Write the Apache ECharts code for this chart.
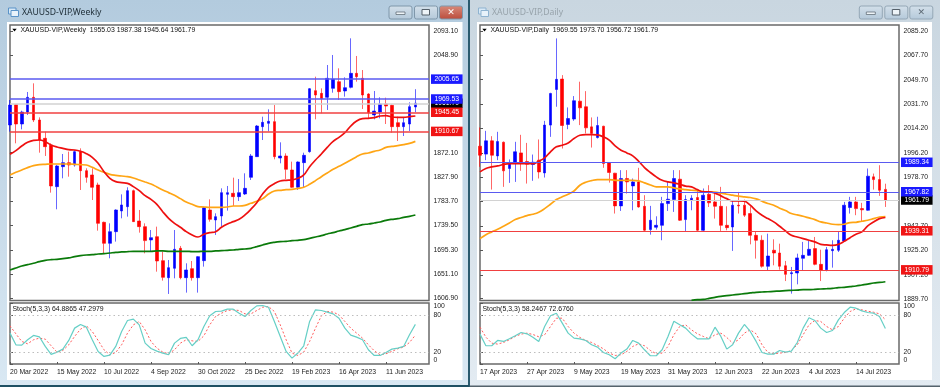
<!DOCTYPE html>
<html>
<head>
<meta charset="utf-8">
<style>html,body{margin:0;padding:0;background:#d6e4ef}#c{width:940px;height:387px}</style>
<script src="https://cdn.jsdelivr.net/npm/echarts@6/dist/echarts.min.js"></script>
</head>
<body>
<div id="c"></div>
<script>
// ---------- Weekly ----------
const weeklyTitle = 'XAUUSD-VIP,Weekly';
const weeklyLegend = 'XAUUSD-VIP,Weekly  1955.03 1987.38 1945.64 1961.79';
const weeklyStochLabel = 'Stoch(5,3,3) 64.8865 47.2979';
const weeklyDates = ['20 Mar 2022','15 May 2022','10 Jul 2022','4 Sep 2022','30 Oct 2022','25 Dec 2022','19 Feb 2023','16 Apr 2023','11 Jun 2023'];
const weeklyPriceTicks = [2093.10,2048.90,1872.10,1827.90,1783.70,1739.50,1695.30,1651.10,1606.90];
const weeklyLevels = [[1961.79,'black'],[2005.65,'blue'],[1969.53,'blue'],[1945.45,'red'],[1910.67,'red']];
// open, close, low, high
const weeklyOHLC = [
[1922.3,1958.6,1910.2,1967.7],[1959.2,1924.1,1889.0,1960.0],[1924.1,1945.9,1914.4,1948.3],[1945.9,1972.6,1940.5,1982.3],[1972.6,1931.4,1927.7,1998.0],
[1931.4,1895.0,1872.0,1936.2],[1898.1,1882.9,1866.0,1910.2],[1885.4,1811.5,1799.4,1889.0],[1810.3,1847.8,1769.1,1849.6],[1846.6,1853.9,1825.4,1869.6],
[1853.9,1849.6,1828.4,1873.9],[1849.6,1873.9,1846.6,1876.9],[1873.9,1839.3,1804.2,1879.9],[1839.3,1827.2,1817.5,1843.6],[1831.5,1809.1,1786.0,1843.6],
[1813.3,1743.6,1730.3,1817.5],[1745.5,1707.3,1687.9,1746.7],[1707.3,1728.5,1680.1,1743.6],[1728.5,1767.9,1710.4,1769.1],[1766.1,1777.0,1752.7,1796.3],
[1773.9,1803.0,1755.8,1809.1],[1803.0,1746.7,1746.7,1805.0],[1747.9,1737.6,1726.7,1767.9],[1737.6,1712.2,1689.1,1743.6],[1713.4,1717.6,1692.2,1731.5],
[1719.4,1675.2,1655.8,1737.6],[1675.8,1645.5,1639.5,1692.2],[1644.9,1663.1,1615.3,1677.0],[1661.9,1696.4,1643.7,1731.5],[1698.2,1644.9,1641.9,1702.5],
[1644.9,1658.9,1617.7,1671.0],[1661.3,1644.9,1639.5,1675.2],[1644.9,1683.1,1617.7,1684.0],[1675.8,1772.1,1664.9,1773.9],[1767.9,1750.9,1746.7,1787.2],
[1749.7,1755.8,1722.5,1761.8],[1757.0,1799.4,1737.6,1807.2],[1796.3,1799.4,1766.7,1811.5],[1798.2,1792.1,1775.1,1826.6],[1792.1,1799.4,1784.2,1824.2],
[1796.9,1807.2,1795.1,1834.5],[1827.2,1866.0,1822.4,1869.6],[1864.8,1920.5,1864.8,1922.3],[1919.3,1927.1,1895.0,1937.4],[1925.3,1929.0,1910.8,1950.8],
[1928.4,1864.8,1859.9,1958.6],[1862.3,1866.0,1852.7,1890.8],[1866.0,1841.8,1824.2,1870.8],[1840.5,1809.1,1808.0,1855.7],[1809.1,1855.1,1804.2,1856.3],
[1853.9,1867.2,1808.4,1872.0],[1873.9,1988.3,1872.0,1989.5],[1984.7,1976.8,1932.6,2010.1],[1979.8,1970.1,1943.5,1988.9],[1972.6,2007.1,1949.6,2031.3],
[1988.9,2005.3,1981.0,2049.5],[2001.0,1982.9,1967.7,2025.3],[1984.1,1990.1,1973.8,2008.9],[1990.7,2016.2,1988.9,2079.8],[2016.2,2010.1,2001.0,2047.7],
[2007.1,1976.8,1951.4,2022.2],[1978.6,1944.7,1933.2,1980.0],[1940.5,1947.7,1932.6,1984.1],[1945.9,1960.5,1934.4,1972.6],[1960.5,1956.8,1924.1,1972.0],
[1958.0,1919.3,1908.4,1959.5],[1926.5,1919.3,1893.2,1937.4],[1919.3,1926.5,1902.3,1936.2],[1924.1,1955.6,1911.4,1963.5],[1955.03,1961.79,1945.64,1987.38]];
const weeklyMaFast = [
1869.0,1875.7,1884.1,1890.8,1894.4,1895.0,1892.0,1886.0,1882.3,1879.9,
1877.5,1876.9,1874.5,1870.2,1863.6,1852.7,1837.5,1825.4,1819.4,1817.5,
1816.3,1810.3,1803.0,1793.9,1787.2,1778.2,1764.8,1752.7,1743.6,1736.4,
1728.5,1722.5,1718.8,1723.7,1726.7,1728.5,1736.4,1742.4,1746.7,1750.9,
1758.8,1769.1,1781.2,1796.9,1809.1,1815.7,1820.6,1821.8,1822.4,1825.4,
1831.5,1846.6,1858.7,1869.6,1881.7,1892.6,1899.9,1908.4,1920.5,1929.6,
1933.8,1934.4,1935.6,1938.7,1939.3,1936.8,1936.2,1936.2,1937.4,1938.7];
const weeklyMaMid = [
1831.5,1836.3,1840.5,1844.8,1848.4,1850.2,1850.8,1851.4,1851.4,1851.4,
1851.4,1850.8,1850.2,1849.6,1845.4,1840.5,1836.3,1832.7,1830.9,1829.6,
1828.4,1826.0,1822.4,1818.7,1815.1,1809.7,1804.2,1799.4,1794.5,1788.5,
1782.4,1778.2,1773.9,1773.3,1772.7,1772.7,1772.7,1773.3,1775.1,1775.1,
1776.3,1780.0,1783.6,1788.5,1796.9,1802.4,1803.6,1804.8,1805.4,1807.2,
1809.1,1814.5,1821.2,1828.4,1835.1,1841.8,1847.2,1852.7,1858.7,1864.8,
1869.6,1871.4,1874.5,1876.9,1881.7,1883.5,1884.7,1886.6,1889.0,1892.6];
const weeklyMaSlow = [
1658.9,1662.5,1666.1,1668.5,1671.0,1674.0,1676.4,1677.6,1678.2,1679.4,
1680.7,1683.1,1684.9,1686.1,1686.7,1687.9,1688.5,1689.7,1690.9,1691.6,
1692.2,1692.8,1692.8,1692.8,1692.8,1693.4,1693.4,1692.8,1692.8,1692.8,
1692.8,1692.2,1692.2,1692.8,1692.8,1693.4,1694.0,1694.6,1695.2,1696.4,
1697.0,1698.2,1701.2,1704.3,1707.3,1709.1,1710.3,1710.9,1712.1,1712.8,
1714.0,1716.4,1718.8,1721.2,1724.3,1726.7,1729.7,1732.1,1735.2,1738.2,
1741.2,1742.4,1744.2,1746.1,1749.1,1750.9,1752.1,1754.5,1756.4,1758.8];
const weeklyStochMain = [
50.6,31.5,30.9,39.7,46.8,44.6,28.8,15.7,19.5,24.4,
38.6,58.8,64.8,60.4,39.7,20.6,12.4,14.6,28.8,53.3,
71.3,73.5,64.2,34.2,25.5,21.1,17.9,15.1,34.2,41.9,
43.5,29.9,39.7,61.5,79.0,86.1,86.6,89.9,89.9,83.3,
77.9,87.7,95.3,95.9,93.1,69.7,45.2,20.6,9.7,17.9,
29.9,69.7,88.8,87.7,85.0,82.2,75.1,58.8,47.3,44.0,
39.7,23.3,14.0,14.0,18.9,24.4,26.0,28.8,47.9,64.89];
const weeklyStochSignal = [
62.6,49.5,37.0,33.1,39.7,42.4,40.8,29.9,19.5,22.2,
31.5,45.2,57.1,62.6,53.3,38.6,23.3,15.1,18.9,31.5,
50.6,64.2,69.7,56.0,37.0,26.0,19.5,16.8,23.3,34.2,
39.7,38.0,37.0,46.2,64.2,77.9,83.3,87.7,88.8,87.7,
82.2,82.2,87.7,93.1,94.2,86.1,64.2,39.7,17.9,14.0,
19.5,37.0,58.8,79.0,86.1,85.0,80.6,69.7,58.8,50.6,
42.4,31.5,21.7,15.1,16.8,20.6,25.0,27.7,35.3,47.30];

// ---------- Daily ----------
const dailyTitle = 'XAUUSD-VIP,Daily';
const dailyLegend = 'XAUUSD-VIP,Daily  1969.55 1973.70 1956.72 1961.79';
const dailyStochLabel = 'Stoch(5,3,3) 58.2467 72.6760';
const dailyDates = ['17 Apr 2023','27 Apr 2023','9 May 2023','19 May 2023','31 May 2023','12 Jun 2023','22 Jun 2023','4 Jul 2023','14 Jul 2023'];
const dailyPriceTicks = [2085.20,2067.70,2049.70,2031.70,2014.20,1996.20,1978.70,1960.70,1942.70,1925.20,1907.20,1889.70];
const dailyLevels = [[1961.79,'black'],[1989.34,'blue'],[1967.82,'blue'],[1939.31,'red'],[1910.79,'red']];
const dailyOHLC = [
[2001.1,1994.5,1986.0,2014.8],[1995.3,2005.0,1990.9,2012.3],[2005.0,1994.5,1969.4,2008.4],[1994.0,2004.5,1990.9,2011.6],[2004.0,1983.1,1971.4,2004.5],
[1984.8,1989.2,1974.3,1991.4],[1988.4,1997.0,1975.0,2004.3],[1996.2,1989.2,1983.1,2009.4],[1989.9,1987.9,1973.8,2003.5],[1987.7,1989.4,1975.8,1995.0],
[1990.9,1982.3,1977.5,2006.0],[1981.6,2016.5,1978.2,2019.6],[2016.5,2039.6,2007.9,2040.1],[2042.5,2049.9,2029.9,2079.8],[2050.1,2016.2,1999.4,2053.0],
[2017.0,2021.3,2013.5,2029.4],[2020.9,2034.3,2019.6,2037.7],[2034.0,2029.1,2016.5,2048.2],[2029.9,2014.5,2010.4,2041.3],[2015.2,2010.4,2000.1,2022.1],
[2007.4,2016.2,2006.7,2022.6],[2015.7,1988.4,1985.3,2016.0],[1989.2,1981.9,1974.5,1989.5],[1981.4,1957.5,1951.9,1981.6],[1957.5,1977.5,1953.8,1983.6],
[1977.5,1975.0,1966.5,1983.6],[1972.1,1975.0,1954.3,1977.5],[1975.0,1956.7,1956.2,1985.3],[1957.2,1939.7,1938.5,1965.3],[1940.2,1947.0,1936.5,1957.5],
[1941.9,1943.3,1940.2,1949.9],[1943.3,1959.2,1932.4,1964.1],[1959.2,1962.4,1953.8,1975.0],[1962.1,1977.5,1953.1,1983.6],[1977.0,1947.0,1946.5,1983.6],
[1947.5,1962.1,1938.5,1965.3],[1961.6,1963.1,1954.3,1965.3],[1963.6,1939.7,1939.2,1969.4],[1939.7,1965.3,1939.2,1970.2],[1966.0,1959.7,1956.7,1972.6],
[1960.4,1957.2,1948.2,1967.7],[1957.2,1943.3,1939.2,1971.4],[1943.3,1941.6,1939.7,1957.2],[1942.1,1958.0,1924.6,1961.6],[1958.0,1957.5,1951.9,1967.7],
[1958.0,1950.7,1949.4,1962.1],[1951.9,1936.0,1929.4,1957.2],[1936.0,1932.4,1919.0,1938.5],[1932.4,1913.4,1912.4,1936.0],[1913.4,1920.9,1910.4,1937.2],
[1925.1,1923.1,1914.1,1933.1],[1923.1,1913.4,1910.9,1929.9],[1913.8,1907.5,1902.6,1917.3],[1908.0,1908.7,1893.4,1912.9],[1908.5,1919.5,1900.2,1922.6],
[1919.2,1921.4,1910.4,1931.2],[1921.4,1925.8,1920.9,1931.9],[1926.3,1914.8,1914.1,1934.8],[1914.8,1910.4,1902.6,1925.5],[1910.9,1925.5,1909.7,1927.5],
[1924.8,1925.8,1912.4,1932.4],[1925.1,1932.4,1923.8,1938.5],[1931.9,1958.0,1931.2,1960.4],[1956.3,1960.4,1951.9,1964.1],[1960.4,1955.5,1950.7,1964.1],
[1955.5,1954.6,1945.8,1959.7],[1954.3,1979.2,1954.0,1984.8],[1978.7,1976.7,1969.4,1981.1],[1976.7,1968.9,1964.8,1987.2],[1969.55,1961.79,1956.72,1973.70]];
const dailyMaFast = [
1982.3,1984.8,1986.0,1986.7,1987.7,1988.4,1988.4,1988.4,1988.4,1988.4,
1990.1,1992.6,1997.0,2000.6,2001.8,2003.5,2006.7,2009.1,2009.6,2009.6,
2009.4,2007.9,2005.5,2001.3,1998.2,1996.2,1994.0,1990.1,1985.5,1981.9,
1978.7,1976.2,1975.0,1974.3,1973.3,1971.9,1971.4,1969.4,1967.7,1967.7,
1966.8,1964.8,1962.8,1961.1,1961.1,1960.9,1958.0,1953.8,1950.6,1948.2,
1945.8,1942.6,1939.2,1936.0,1934.8,1933.6,1932.4,1931.2,1929.4,1929.0,
1928.7,1929.4,1931.6,1934.3,1936.8,1938.5,1942.9,1945.8,1948.2,1949.0];
const dailyMaMid = [
1933.6,1936.5,1938.5,1940.4,1942.6,1945.0,1947.5,1949.0,1950.4,1951.4,
1952.9,1955.5,1958.7,1962.1,1964.1,1966.0,1968.4,1972.6,1974.8,1976.0,
1976.7,1976.7,1976.7,1976.2,1976.2,1976.2,1976.2,1975.8,1974.3,1972.8,
1971.4,1971.4,1971.4,1970.6,1969.9,1969.4,1968.9,1968.7,1968.0,1967.7,
1967.5,1966.8,1966.0,1965.3,1964.6,1964.1,1963.6,1962.6,1960.9,1959.2,
1958.0,1955.8,1954.1,1951.9,1950.9,1949.9,1948.7,1947.5,1945.8,1945.0,
1944.1,1943.8,1944.1,1945.3,1945.5,1946.3,1947.0,1948.2,1949.4,1949.7];
// the slow average only enters the price panel from bar 36 onward
const dailyMaSlowFirstBar = 36;
const dailyMaSlow = [
1888.5,1889.0,1889.2,1889.9,1890.7,1891.4,1891.9,1892.4,1892.9,1893.4,
1893.9,1894.4,1894.6,1894.8,1895.1,1895.3,1895.6,1895.8,1896.0,1896.3,
1896.3,1896.5,1896.8,1897.0,1897.3,1897.8,1898.0,1898.5,1899.0,1899.7,
1900.4,1901.2,1901.6,1902.1];
const dailyStochMain = [
49.0,29.9,29.9,38.6,37.0,41.3,46.2,51.7,49.5,44.0,
37.0,61.5,79.0,83.3,67.0,50.6,42.4,41.3,38.6,31.5,
27.7,18.9,15.1,8.6,17.9,24.4,38.6,34.2,23.3,13.5,
13.5,23.3,45.2,70.2,64.2,58.8,49.0,41.3,41.3,41.3,
60.4,45.2,24.4,31.5,50.6,64.8,53.3,37.0,18.9,16.2,
16.2,22.2,19.5,21.1,35.3,58.8,75.7,71.3,58.8,51.7,
55.0,72.4,84.4,93.1,91.5,87.1,84.4,83.3,77.9,58.25];
const dailyStochSignal = [
60.4,44.0,34.2,32.6,35.3,39.7,45.2,49.0,50.6,48.4,
44.6,47.9,61.5,75.1,75.1,61.5,50.6,43.5,38.6,35.3,
30.4,24.9,17.9,14.0,15.1,20.6,28.8,33.1,29.9,22.2,
16.8,17.9,28.8,47.9,61.5,64.2,56.0,49.5,45.2,41.3,
47.9,50.6,43.5,34.2,39.7,50.6,56.0,49.5,31.5,18.9,
16.8,17.9,18.9,22.2,31.5,47.9,64.2,71.3,69.7,61.5,
56.0,61.5,75.1,86.1,90.4,88.8,86.6,84.9,82.2,72.68];

const stochTicks = [0,20,80,100];
const stochLevels = [20,80];
const barsPerDateLabel = 8;

// ---------- helpers ----------
const textFont = 'Liberation Sans';
const TAG = {blue:'#1a1aff', red:'#f01414', black:'#000'};
const LINE = {blue:'#5a5af0', red:'#f04040', black:'#d2d2d2'};

function lineSeries(xi,yi,values,color,width,z,first,smooth){
  return {type:'line',xAxisIndex:xi,yAxisIndex:yi,showSymbol:false,silent:true,animation:false,z:z,smooth:smooth||false,
    data:values.map((v,i)=>[i+(first||0),v]),lineStyle:{color:color,width:width}};
}
function windowOption(w){
  const {left,right}=w;
  const gTop=25,gHeight=275.5,sTop=303,sHeight=61;
  const xMax=(right-left)/5.875;
  const xAxisBase={type:'value',min:0,max:xMax,splitLine:{show:false},axisLine:{show:false}};
  const gridBase={show:true,backgroundColor:'#fff',borderColor:'#6a6a6a',borderWidth:1.5,left:left,width:right-left};
  const axisLabelStyle={fontFamily:textFont,fontSize:w.fontSize,color:'#222'};
  const xCustom=w.dates.map((_,i)=>i*barsPerDateLabel);
  return {
    grid:[Object.assign({top:gTop,height:gHeight},gridBase),Object.assign({top:sTop,height:sHeight},gridBase)],
    xAxis:[
      Object.assign({gridIndex:0,axisTick:{show:false},axisLabel:{show:false}},xAxisBase),
      Object.assign({gridIndex:1,
        axisTick:{show:true,length:2,inside:true,customValues:xCustom,lineStyle:{color:'#555'}},
        axisLabel:Object.assign({show:true,margin:5,align:'left',customValues:xCustom,
          formatter:v=>w.dates[Math.round(v/barsPerDateLabel)]||''},axisLabelStyle)},xAxisBase)
    ],
    yAxis:[
      {gridIndex:0,type:'value',position:'right',min:w.yMin,max:w.yMax,scale:true,splitLine:{show:false},axisLine:{show:false},
        axisTick:{show:true,length:3,customValues:w.ticks,lineStyle:{color:'#555'}},
        axisLabel:Object.assign({show:true,margin:4.5,customValues:w.ticks,formatter:v=>v.toFixed(2)},axisLabelStyle)},
      {gridIndex:1,type:'value',position:'right',min:0,max:100,splitLine:{show:false},axisLine:{show:false},
        axisTick:{show:true,length:3,customValues:stochTicks,lineStyle:{color:'#555'}},
        axisLabel:Object.assign({show:true,margin:4.5,customValues:stochTicks,
          verticalAlignMinLabel:'bottom',verticalAlignMaxLabel:'top'},axisLabelStyle)}
    ],
    series:[
      {type:'line',xAxisIndex:0,yAxisIndex:0,data:[],showSymbol:false,silent:true,animation:false,z:1,
        markLine:{silent:true,symbol:'none',animation:false,
          data:w.levels.map(l=>({yAxis:l[0],lineStyle:{color:LINE[l[1]],width:w.levelWidth,type:'solid'},
            label:{show:true,position:'end',distance:2,formatter:l[0].toFixed(2),color:'#fff',
              backgroundColor:TAG[l[1]],padding:[1.5,3.5,1,3.5],fontFamily:textFont,fontSize:w.fontSize}}))}},
      {type:'candlestick',xAxisIndex:0,yAxisIndex:0,barWidth:3.2,silent:true,animation:false,z:2,
        data:w.ohlc.map((d,i)=>[i].concat(d)),
        itemStyle:{color:'#0000ff',color0:'#ff0000',borderColor:'#0000ff',borderColor0:'#ff0000',borderWidth:0.6}},
      lineSeries(0,0,w.maSlow,'#0a7a0a',1.7,3,w.maSlowFirst,0.4),
      lineSeries(0,0,w.maMid,'#ffa514',1.7,3,0,0.4),
      lineSeries(0,0,w.maFast,'#ee1010',1.7,3,0,0.4),
      Object.assign(lineSeries(1,1,w.stochSignal,'#ff5c5c',1,3),{lineStyle:{color:'#ff5c5c',width:1,type:[2,2]}}),
      Object.assign(lineSeries(1,1,w.stochMain,'#66cfc6',1.2,4),{
        markLine:{silent:true,symbol:'none',animation:false,label:{show:false},
          lineStyle:{color:'#bdbdbd',width:1,type:[1.5,3]},data:stochLevels.map(v=>({yAxis:v}))}})
    ]
  };
}
const weekly={left:10,right:429,ohlc:weeklyOHLC,maFast:weeklyMaFast,maMid:weeklyMaMid,maSlow:weeklyMaSlow,maSlowFirst:0,
  stochMain:weeklyStochMain,stochSignal:weeklyStochSignal,dates:weeklyDates,ticks:weeklyPriceTicks,levels:weeklyLevels,
  yMin:1603.4,yMax:2104.0,levelWidth:1.5,fontSize:6.8};
const daily={left:480,right:899,ohlc:dailyOHLC,maFast:dailyMaFast,maMid:dailyMaMid,maSlow:dailyMaSlow,maSlowFirst:dailyMaSlowFirstBar,
  stochMain:dailyStochMain,stochSignal:dailyStochSignal,dates:dailyDates,ticks:dailyPriceTicks,levels:dailyLevels,
  yMin:1888.4,yMax:2089.6,levelWidth:1.1,fontSize:6.8};

function rebase(o,gridOff,axisOff){
  o.xAxis.forEach(a=>a.gridIndex+=gridOff);o.yAxis.forEach(a=>a.gridIndex+=gridOff);
  o.series.forEach(s=>{s.xAxisIndex+=axisOff;s.yAxisIndex+=axisOff;});
  return o;
}
const wk=windowOption(weekly), dy=rebase(windowOption(daily),2,2);

// window chrome
function grad(c1,c2){return {type:'linear',x:0,y:0,x2:0,y2:1,colorStops:[{offset:0,color:c1},{offset:1,color:c2}]};}
function rect(x,y,w,h,fill,extra){return Object.assign({type:'rect',z:-5,silent:true,shape:{x:x,y:y,width:w,height:h},style:{fill:fill}},extra||{});}
function button(x,w,active,red){
  return [rect(x,6,w,13,grad(red?'#d88b7c':'#d4e0ea',red?'#bb4b3a':'#b4c9da'),
    {shape:{x:x,y:6,width:w,height:13,r:2},style:{fill:grad(red?'#d88b7c':'#d4e0ea',red?'#bb4b3a':'#b4c9da'),stroke:active?'#7f97aa':'#94a7b6',lineWidth:1}})];
}
function chrome(x0,x1,white0,white1,bx,active,iconX){
  const frame=active?grad('#b3cbde','#d9e8f3'):grad('#c9d6e0','#e3ebf2');
  let els=[rect(x0,0,x1-x0,387,frame),rect(white0,22,white1-white0,358,'#ffffff')];
  els=els.concat(button(bx,23,active,false),button(bx+25.5,23,active,false),button(bx+50.5,23,active,active));
  // minimise, restore and close glyphs
  els.push(rect(bx+7,12,9,2.5,'#fff',{style:{fill:'#eef4f8',stroke:'#55606a',lineWidth:.7}}));
  els.push(rect(bx+25.5+7.5,9.5,7.5,5.5,'#fff',{style:{fill:'#eef4f8',stroke:'#55606a',lineWidth:1}}));
  els.push({type:'text',z:-4,silent:true,style:{x:bx+50.5+11.5,y:12.5,text:'✕',fill:active?'#fff':'#5d6a75',fontSize:9,fontWeight:'bold',align:'center',verticalAlign:'middle',fontFamily:'DejaVu Sans'}});
  // window icon
  els.push(rect(iconX,8,7.5,6,'#cfe3f5',{style:{fill:'#d8e9f7',stroke:active?'#5a93c8':'#8fb3d0',lineWidth:1}}));
  els.push(rect(iconX+2.5,10.5,7.5,6,'#cfe3f5',{style:{fill:'#e8f2fa',stroke:active?'#5a93c8':'#8fb3d0',lineWidth:1}}));
  return els;
}
function caret(x){return {type:'polygon',z:10,silent:true,shape:{points:[[x,28.8],[x+4.4,28.8],[x+2.2,31.4]]},style:{fill:'#000'}};}
function txt(x,y,text,size,color,family){return {type:'text',z:10,silent:true,style:{x:x,y:y,text:text,fontSize:size,fill:color,fontFamily:family||textFont,verticalAlign:'middle'}};}

const graphics=[].concat(
  chrome(0,469,7,462.5,389,true,8.5),
  chrome(470,940,477,932,859.3,false,478.5),
  [rect(468,0,2,387,'#2a5a6e'),rect(0,385,469,2,'#1f5063'),rect(470,385.5,470,1.5,'#55636c'),
   caret(12.3),caret(482.3),
   txt(22,13,weeklyTitle,8.6,'#20303a','Noto Sans'),txt(492,13,dailyTitle,8.6,'#97a3ab','Noto Sans'),
   txt(20.4,30.3,weeklyLegend,6.9,'#111'),txt(490.4,30.3,dailyLegend,6.9,'#111'),
   txt(12.5,308.6,weeklyStochLabel,6.9,'#111'),txt(482.5,308.6,dailyStochLabel,6.9,'#111')]
);

const option={animation:false,backgroundColor:'#d6e4ef',
  grid:wk.grid.concat(dy.grid),xAxis:wk.xAxis.concat(dy.xAxis),yAxis:wk.yAxis.concat(dy.yAxis),
  series:wk.series.concat(dy.series),graphic:{elements:graphics}};
const chart=echarts.init(document.getElementById('c'),null,{renderer:'canvas',width:940,height:387,devicePixelRatio:1});
chart.setOption(option);
</script>
</body>
</html>
